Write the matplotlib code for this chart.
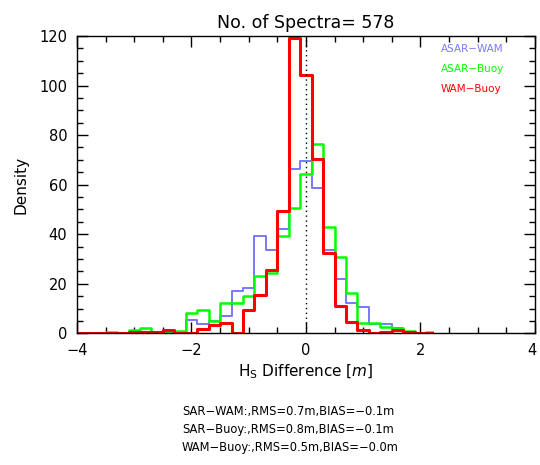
import matplotlib
matplotlib.use("Agg")
import matplotlib.pyplot as plt
import matplotlib.transforms as mtransforms
from matplotlib.ticker import MultipleLocator

# bin centres of the histogram (m)
centres = [-4.0, -3.8, -3.6, -3.4, -3.2, -3.0, -2.8, -2.6, -2.4, -2.2, -2.0,
           -1.8, -1.6, -1.4, -1.2, -1.0, -0.8, -0.6, -0.4, -0.2, 0.0,
           0.2, 0.4, 0.6, 0.8, 1.0, 1.2, 1.4, 1.6, 1.8, 2.0, 2.2]

asar_wam = [0, 0, 0, 0, 0, 0.3, 0.3, 0, 0.5, 0.3, 5.3,
            3.9, 4.9, 6.9, 17.2, 18.1, 39.3, 33.6, 42.2, 66.4, 69.5,
            58.6, 33.6, 21.8, 12.4, 10.5, 3.8, 3.8, 2.1, 0, 0, 0]
asar_buoy = [0, 0, 0, 0.5, 0, 1.3, 2.3, 0.3, 1.0, 0.9, 8.3,
             9.5, 5.0, 12.3, 12.3, 15.0, 23.2, 24.2, 39.3, 50.5, 64.5,
             76.5, 43.1, 31.0, 16.1, 4.2, 4.2, 2.5, 2.1, 0.8, 0, 0.4]
wam_buoy = [0, 0, 0, 0, 0, 0.4, 0.4, 0.4, 1.4, 0, 0,
            1.7, 3.4, 4.1, 0, 9.4, 15.5, 25.5, 49.5, 119.2, 104.3,
            70.4, 32.3, 11.0, 4.5, 1.4, 0, 0.4, 1.4, 0.4, 0, 0]

names = ["ASAR\u2212WAM", "ASAR\u2212Buoy", "WAM\u2212Buoy"]
colors = ["#7878ff", "#00ff00", "#ff0000"]
widths = [1.4, 1.8, 2.2]

stats = ["SAR\u2212WAM:,RMS=0.7m,BIAS=\u22120.1m",
         "SAR\u2212Buoy:,RMS=0.8m,BIAS=\u22120.1m",
         "WAM\u2212Buoy:,RMS=0.5m,BIAS=\u22120.0m"]

fig = plt.figure(figsize=(5.4, 4.65), dpi=100)
ax = fig.add_axes([0.1426, 0.2832, 0.848, 0.6394])

for vals, c, lw in zip([asar_wam, asar_buoy, wam_buoy], colors, widths):
    ax.step(centres, vals, where="mid", color=c, lw=lw)

ax.axvline(0, color="black", ls=(0, (1, 2.5)), lw=1)

ax.set_xlim(-4, 4)
ax.set_ylim(0, 120)
ax.xaxis.set_major_locator(MultipleLocator(2))
ax.xaxis.set_minor_locator(MultipleLocator(0.5))
ax.yaxis.set_major_locator(MultipleLocator(20))
ax.yaxis.set_minor_locator(MultipleLocator(5))
ax.tick_params(which="both", direction="in", top=True, right=True,
               width=1, labelsize=10.5)
ax.tick_params(which="major", length=8, pad=7)
ax.tick_params(which="minor", length=4)
ax.set_xticks([-4, -2, 0, 2, 4], ["\u22124", "\u22122", "0", "2", "4"])
for s in ax.spines.values():
    s.set_linewidth(1)

ax.set_title("No. of Spectra= 578", fontsize=12.5, pad=6)
ax.set_ylabel("Density", fontsize=11, labelpad=8)
ax.set_xlabel(r"H$_\mathrm{S}$ Difference [$\mathbf{\mathit{m}}$]", fontsize=11, labelpad=3)

for i, (n, c) in enumerate(zip(names, colors)):
    ax.text(0.795, 0.955 - i * 0.066, n, color=c, fontsize=7.5,
            transform=ax.transAxes, va="center", ha="left")

for i, s in enumerate(stats):
    fig.text(0.337, 0.116 - i * 0.039, s, fontsize=8.3, ha="left", va="center")

# nudge the last x label inside the figure, lift the 0 label a bit like IDL does
fig.canvas.draw()
xt = ax.xaxis.get_major_ticks()[-1].label1
xt.set_transform(xt.get_transform()
                 + mtransforms.ScaledTranslation(-2 / 72, 0, fig.dpi_scale_trans))
yt = ax.yaxis.get_major_ticks()[0].label1
yt.set_transform(yt.get_transform()
                 + mtransforms.ScaledTranslation(0, 5 / 72, fig.dpi_scale_trans))

fig.savefig("out.png", dpi=100)
